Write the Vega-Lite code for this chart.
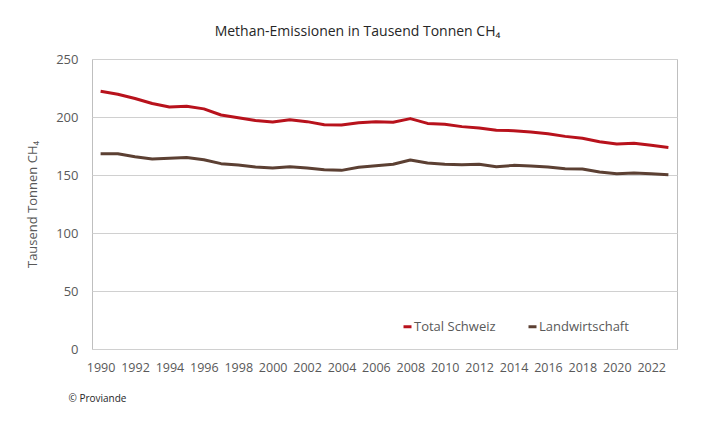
{
  "$schema": "https://vega.github.io/schema/vega-lite/v6.json",
  "width": 585,
  "height": 290,
  "autosize": {"type": "none"},
  "padding": {"left": 92, "top": 59, "right": 33, "bottom": 77},
  "background": "white",
  "title": {
    "text": "Methan-Emissionen in Tausend Tonnen CH₄",
    "anchor": "middle",
    "dx": -27,
    "offset": 14,
    "fontSize": 14,
    "fontWeight": "normal",
    "color": "#262626"
  },
  "config": {
    "font": "Open Sans",
    "view": {"stroke": "#bfbfbf", "strokeWidth": 1}
  },
  "data": {
    "values": [
      {"year": 1990, "serie": "Total Schweiz", "value": 222.2},
      {"year": 1991, "serie": "Total Schweiz", "value": 219.6},
      {"year": 1992, "serie": "Total Schweiz", "value": 216.0},
      {"year": 1993, "serie": "Total Schweiz", "value": 211.6},
      {"year": 1994, "serie": "Total Schweiz", "value": 208.7},
      {"year": 1995, "serie": "Total Schweiz", "value": 209.2},
      {"year": 1996, "serie": "Total Schweiz", "value": 207.0},
      {"year": 1997, "serie": "Total Schweiz", "value": 201.7},
      {"year": 1998, "serie": "Total Schweiz", "value": 199.4},
      {"year": 1999, "serie": "Total Schweiz", "value": 197.0},
      {"year": 2000, "serie": "Total Schweiz", "value": 195.7},
      {"year": 2001, "serie": "Total Schweiz", "value": 197.7},
      {"year": 2002, "serie": "Total Schweiz", "value": 196.0},
      {"year": 2003, "serie": "Total Schweiz", "value": 193.4},
      {"year": 2004, "serie": "Total Schweiz", "value": 193.1},
      {"year": 2005, "serie": "Total Schweiz", "value": 195.0},
      {"year": 2006, "serie": "Total Schweiz", "value": 196.0},
      {"year": 2007, "serie": "Total Schweiz", "value": 195.5},
      {"year": 2008, "serie": "Total Schweiz", "value": 198.6},
      {"year": 2009, "serie": "Total Schweiz", "value": 194.5},
      {"year": 2010, "serie": "Total Schweiz", "value": 193.7},
      {"year": 2011, "serie": "Total Schweiz", "value": 191.7},
      {"year": 2012, "serie": "Total Schweiz", "value": 190.6},
      {"year": 2013, "serie": "Total Schweiz", "value": 188.5},
      {"year": 2014, "serie": "Total Schweiz", "value": 188.2},
      {"year": 2015, "serie": "Total Schweiz", "value": 187.0},
      {"year": 2016, "serie": "Total Schweiz", "value": 185.6},
      {"year": 2017, "serie": "Total Schweiz", "value": 183.3},
      {"year": 2018, "serie": "Total Schweiz", "value": 181.6},
      {"year": 2019, "serie": "Total Schweiz", "value": 178.7},
      {"year": 2020, "serie": "Total Schweiz", "value": 176.7},
      {"year": 2021, "serie": "Total Schweiz", "value": 177.3},
      {"year": 2022, "serie": "Total Schweiz", "value": 175.6},
      {"year": 2023, "serie": "Total Schweiz", "value": 173.8},
      {"year": 1990, "serie": "Landwirtschaft", "value": 168.4},
      {"year": 1991, "serie": "Landwirtschaft", "value": 168.3},
      {"year": 1992, "serie": "Landwirtschaft", "value": 165.8},
      {"year": 1993, "serie": "Landwirtschaft", "value": 163.8},
      {"year": 1994, "serie": "Landwirtschaft", "value": 164.4},
      {"year": 1995, "serie": "Landwirtschaft", "value": 165.0},
      {"year": 1996, "serie": "Landwirtschaft", "value": 163.2},
      {"year": 1997, "serie": "Landwirtschaft", "value": 159.8},
      {"year": 1998, "serie": "Landwirtschaft", "value": 158.6},
      {"year": 1999, "serie": "Landwirtschaft", "value": 156.9},
      {"year": 2000, "serie": "Landwirtschaft", "value": 156.0},
      {"year": 2001, "serie": "Landwirtschaft", "value": 157.2},
      {"year": 2002, "serie": "Landwirtschaft", "value": 156.0},
      {"year": 2003, "serie": "Landwirtschaft", "value": 154.6},
      {"year": 2004, "serie": "Landwirtschaft", "value": 154.0},
      {"year": 2005, "serie": "Landwirtschaft", "value": 156.6},
      {"year": 2006, "serie": "Landwirtschaft", "value": 158.0},
      {"year": 2007, "serie": "Landwirtschaft", "value": 159.2},
      {"year": 2008, "serie": "Landwirtschaft", "value": 162.9},
      {"year": 2009, "serie": "Landwirtschaft", "value": 160.3},
      {"year": 2010, "serie": "Landwirtschaft", "value": 159.2},
      {"year": 2011, "serie": "Landwirtschaft", "value": 158.9},
      {"year": 2012, "serie": "Landwirtschaft", "value": 159.2},
      {"year": 2013, "serie": "Landwirtschaft", "value": 157.2},
      {"year": 2014, "serie": "Landwirtschaft", "value": 158.3},
      {"year": 2015, "serie": "Landwirtschaft", "value": 157.8},
      {"year": 2016, "serie": "Landwirtschaft", "value": 156.9},
      {"year": 2017, "serie": "Landwirtschaft", "value": 155.4},
      {"year": 2018, "serie": "Landwirtschaft", "value": 155.2},
      {"year": 2019, "serie": "Landwirtschaft", "value": 152.6},
      {"year": 2020, "serie": "Landwirtschaft", "value": 151.1},
      {"year": 2021, "serie": "Landwirtschaft", "value": 151.7},
      {"year": 2022, "serie": "Landwirtschaft", "value": 151.1},
      {"year": 2023, "serie": "Landwirtschaft", "value": 150.2}
    ]
  },
  "mark": {"type": "line", "strokeWidth": 3, "strokeJoin": "round"},
  "encoding": {
    "x": {
      "field": "year",
      "type": "ordinal",
      "scale": {"type": "point", "padding": 0.5},
      "axis": {
        "values": [1990, 1992, 1994, 1996, 1998, 2000, 2002, 2004, 2006, 2008, 2010, 2012, 2014, 2016, 2018, 2020, 2022],
        "labelAngle": 0,
        "labelFontSize": 12.5,
        "labelColor": "#595959",
        "labelPadding": 12,
        "ticks": false,
        "domain": false,
        "grid": false,
        "title": "© Proviande",
        "titleX": -24,
        "titleY": 49,
        "titleAlign": "left",
        "titleBaseline": "middle",
        "titleFontSize": 10,
        "titleFontWeight": "normal",
        "titleColor": "#262626"
      }
    },
    "y": {
      "field": "value",
      "type": "quantitative",
      "scale": {"domain": [0, 250]},
      "axis": {
        "values": [0, 50, 100, 150, 200, 250],
        "labelFontSize": 13,
        "labelColor": "#595959",
        "labelPadding": 14,
        "ticks": false,
        "domain": false,
        "gridColor": "#d0d0d0",
        "title": "Tausend Tonnen CH₄",
        "titleFontSize": 13,
        "titleFontWeight": "normal",
        "titleColor": "#595959",
        "titlePadding": 16
      }
    },
    "color": {
      "field": "serie",
      "type": "nominal",
      "sort": ["Total Schweiz", "Landwirtschaft"],
      "scale": {"domain": ["Total Schweiz", "Landwirtschaft"], "range": ["#b8121c", "#5c4033"]},
      "legend": {
        "title": null,
        "orient": "none",
        "direction": "horizontal",
        "legendX": 309,
        "legendY": 261,
        "symbolType": "stroke",
        "symbolSize": 64,
        "symbolStrokeWidth": 3,
        "labelOffset": 0,
        "labelFontSize": 13,
        "labelColor": "#595959",
        "columnPadding": 26
      }
    }
  }
}
